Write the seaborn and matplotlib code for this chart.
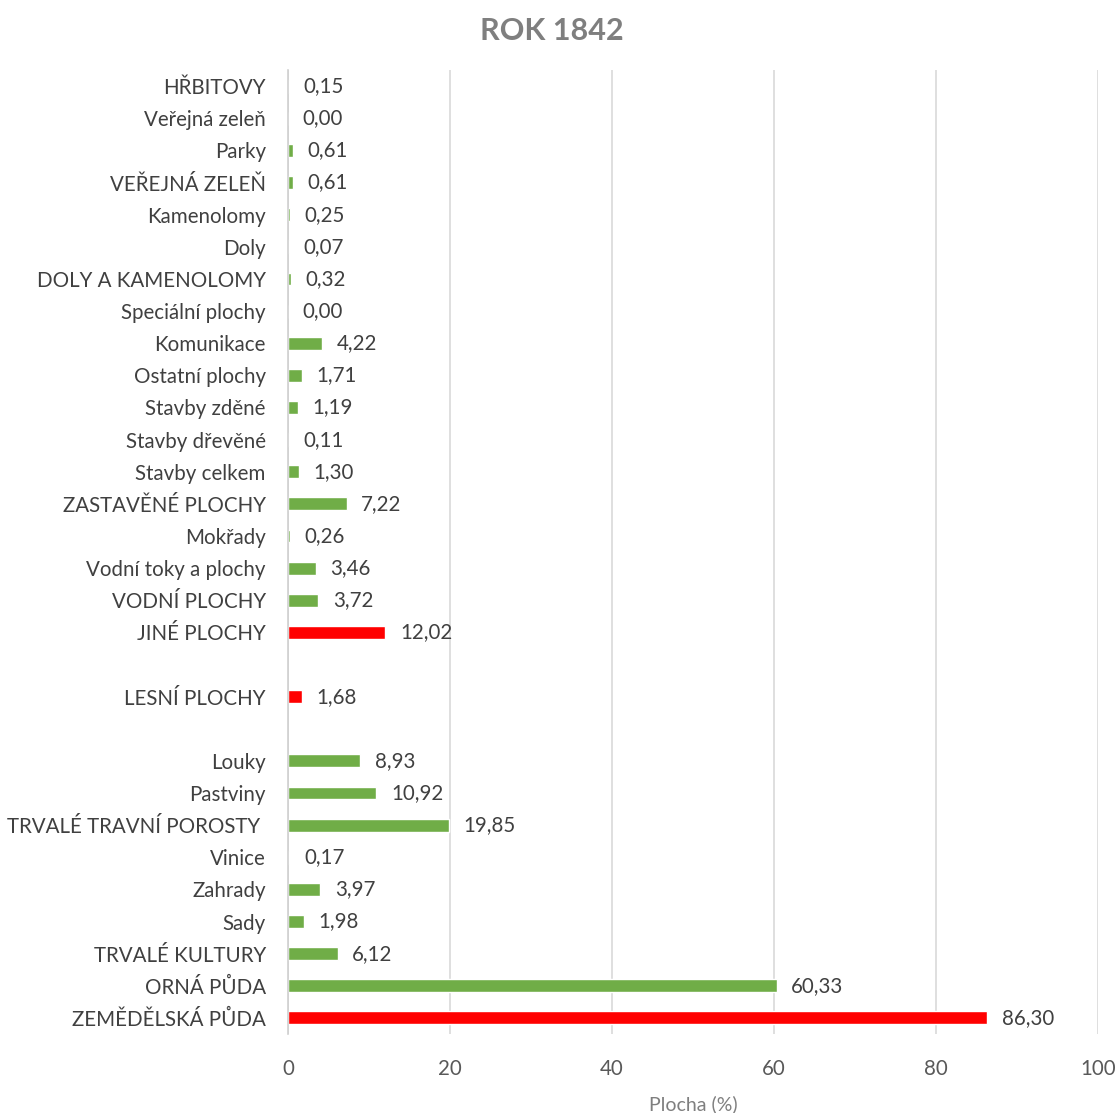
import pandas as pd
import matplotlib.pyplot as plt
import seaborn as sns

# -----------------------------
# Data (top to bottom as shown)
# -----------------------------
categories = [
    "HŘBITOVY", "Veřejná zeleň", "Parky", "VEŘEJNÁ ZELEŇ", "Kamenolomy", "Doly",
    "DOLY A KAMENOLOMY", "Speciální plochy", "Komunikace", "Ostatní plochy",
    "Stavby zděné", "Stavby dřevěné", "Stavby celkem", "ZASTAVĚNÉ PLOCHY",
    "Mokřady", "Vodní toky a plochy", "VODNÍ PLOCHY", "JINÉ PLOCHY", " ",
    "LESNÍ PLOCHY", "  ", "Louky", "Pastviny", "TRVALÉ TRAVNÍ POROSTY ",
    "Vinice", "Zahrady", "Sady", "TRVALÉ KULTURY", "ORNÁ PŮDA", "ZEMĚDĚLSKÁ PŮDA",
]
values = [
    0.15, 0.00, 0.61, 0.61, 0.25, 0.07,
    0.32, 0.00, 4.22, 1.71,
    1.19, 0.11, 1.30, 7.22,
    0.26, 3.46, 3.72, 12.02, None,
    1.68, None, 8.93, 10.92, 19.85,
    0.17, 3.97, 1.98, 6.12, 60.33, 86.30,
]
groups = [
    "sub", "sub", "sub", "sub", "sub", "sub",
    "sub", "sub", "sub", "sub",
    "sub", "sub", "sub", "sub",
    "sub", "sub", "sub", "main", "sub",
    "main", "sub", "sub", "sub", "sub",
    "sub", "sub", "sub", "sub", "sub", "main",
]

df = pd.DataFrame({"cat": categories, "val": values, "grp": groups})

sns.set_style("white")
plt.rcParams['font.family'] = ['Lato', 'DejaVu Sans']

fig = plt.figure(figsize=(11.19, 11.13), dpi=100)
ax = fig.add_axes([0.2574, 0.071, 0.7238, 0.866])

sns.barplot(
    data=df.dropna(), x="val", y="cat", hue="grp", order=categories,
    palette={"sub": "#70ad47", "main": "#ff0000"}, orient="h",
    width=0.4, legend=False, ax=ax, saturation=1,
)

for i, v in enumerate(values):
    if v is None:
        continue
    ax.text(v + 1.8, i, f"{v:.2f}".replace(".", ","), va="center", ha="left",
            fontsize=14.8, color="#404040")

ax.set_xlim(0, 100)
ax.set_ylim(len(categories) - 0.5, -0.5)
ax.set_xticks(range(0, 101, 20))
ax.xaxis.grid(True, color="#d9d9d9", linewidth=1.2)
ax.set_axisbelow(True)
for s in ["top", "right", "bottom"]:
    ax.spines[s].set_visible(False)
ax.spines["left"].set_color("#d0d0d0")
ax.spines["left"].set_linewidth(1.2)

ax.tick_params(axis="y", length=0, pad=16, labelsize=14.8, labelcolor="#404040")
ax.tick_params(axis="x", length=0, pad=18, labelsize=14.8, labelcolor="#595959")
ax.set_ylabel("")
ax.set_xlabel("Plocha (%)", fontsize=14, color="#7f7f7f", labelpad=12)

fig.suptitle("ROK 1842", x=0.493, y=0.985, fontsize=22, fontweight="bold",
             color="#7f7f7f")

plt.savefig("out.png", dpi=100)
